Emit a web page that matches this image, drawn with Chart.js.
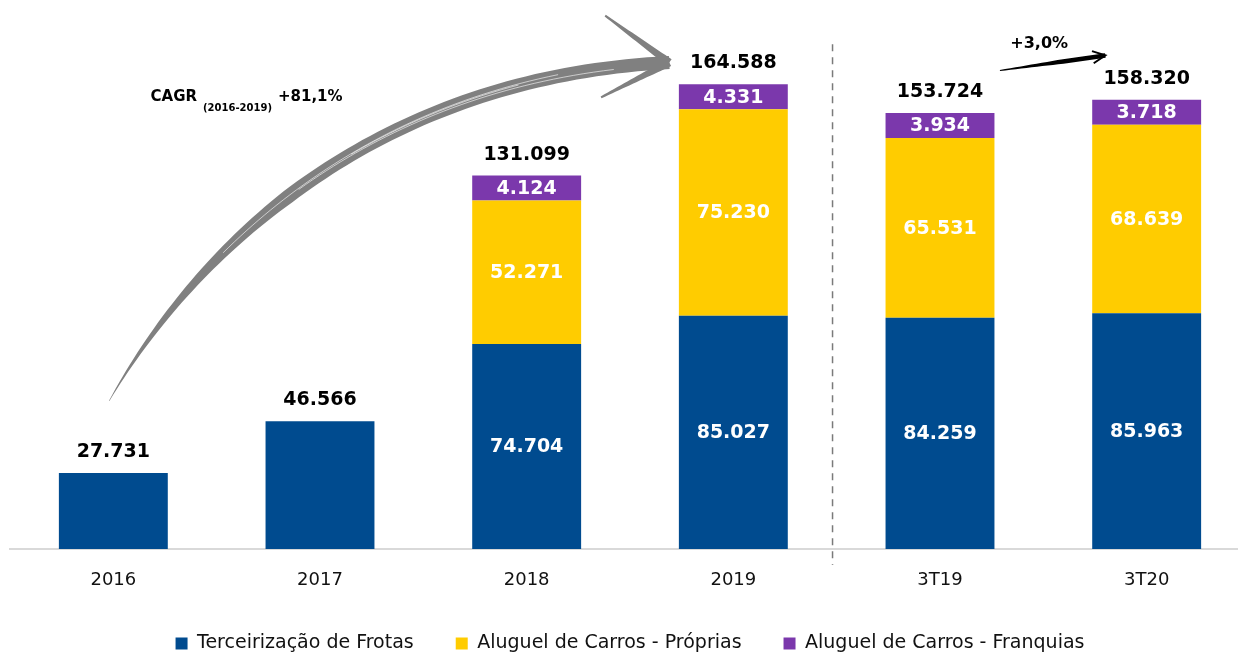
<!DOCTYPE html>
<html>
<head>
<meta charset="utf-8">
<script src="https://cdn.jsdelivr.net/npm/chart.js@4.4.0/dist/chart.umd.min.js"></script>
<style>
  html, body { margin: 0; padding: 0; background: #fff; overflow: hidden; }
</style>
</head>
<body>
<canvas id="frotaChart" width="1250" height="653"></canvas>
<script>
const categories = ['2016', '2017', '2018', '2019', '3T19', '3T20'];
const terceirizacao = [27731, 46566, 74704, 85027, 84259, 85963];
const carrosProprias = [null, null, 52271, 75230, 65531, 68639];
const carrosFranquias = [null, null, 4124, 4331, 3934, 3718];
const seriesNames = ['Terceirização de Frotas', 'Aluguel de Carros - Próprias', 'Aluguel de Carros - Franquias'];
const seriesColors = ['#004b8f', '#ffcc00', '#7b38ac'];

// annotation anchors in chart coordinates: [category index, value]
const cagrCurve = [[-0.02, 54000], [0.42, 112000], [1.29, 172000], [2.69, 177300]];
const cagrBarbs = [[2.38, 194400], [2.36, 164600]];
const growthArrow = [[4.29, 174400], [4.80, 179900]];
const cagrAt = [0.18, 164600];
const growthAt = [4.48, 184200];
const splitAt = 3.48;

function fmt(v) {
    return String(v).replace(/\B(?=(\d{3})+(?!\d))/g, '.');
}

const valueLabels = {
    id: 'valueLabels',
    afterDatasetsDraw(chart) {
        const ctx = chart.ctx;
        ctx.save();
        ctx.textAlign = 'center';
        ctx.textBaseline = 'middle';
        ctx.font = 'bold 19px "DejaVu Sans"';
        categories.forEach((c, i) => {
            let top = Infinity, total = 0, parts = 0;
            chart.data.datasets.forEach((ds, d) => {
                const v = ds.data[i];
                if (v == null) return;
                parts++;
                total += v;
                top = Math.min(top, chart.getDatasetMeta(d).data[i].y);
            });
            chart.data.datasets.forEach((ds, d) => {
                const v = ds.data[i];
                if (v == null || parts < 2) return;
                const bar = chart.getDatasetMeta(d).data[i];
                ctx.fillStyle = '#fff';
                ctx.fillText(fmt(v), bar.x, (bar.y + bar.base) / 2 + 1);
            });
            ctx.fillStyle = '#000';
            ctx.fillText(fmt(total), chart.getDatasetMeta(0).data[i].x, top - 21);
        });
        ctx.restore();
    }
};

// filled stroke whose width follows widthAt(t) along the points
function taper(ctx, pts, widthAt) {
    const left = [], right = [];
    for (let k = 0; k < pts.length; k++) {
        const a = pts[Math.max(0, k - 1)], b = pts[Math.min(pts.length - 1, k + 1)];
        const tx = b[0] - a[0], ty = b[1] - a[1];
        const len = Math.hypot(tx, ty) || 1;
        const nx = -ty / len, ny = tx / len;
        const w = widthAt(k / (pts.length - 1)) / 2;
        left.push([pts[k][0] + nx * w, pts[k][1] + ny * w]);
        right.push([pts[k][0] - nx * w, pts[k][1] - ny * w]);
    }
    ctx.beginPath();
    ctx.moveTo(left[0][0], left[0][1]);
    left.forEach(p => ctx.lineTo(p[0], p[1]));
    right.reverse().forEach(p => ctx.lineTo(p[0], p[1]));
    ctx.closePath();
    ctx.fill();
}

function line(a, b, n) {
    const pts = [];
    for (let k = 0; k <= n; k++) {
        const t = k / n;
        pts.push([a[0] + (b[0] - a[0]) * t, a[1] + (b[1] - a[1]) * t]);
    }
    return pts;
}

const notes = {
    id: 'notes',
    afterDraw(chart) {
        const {ctx, scales: {x, y}} = chart;
        const px = p => [x.getPixelForValue(p[0]), y.getPixelForValue(p[1])];
        ctx.save();

        // divider between years and quarters
        const sx = x.getPixelForValue(splitAt);
        ctx.strokeStyle = '#7a7a7a';
        ctx.lineWidth = 1.5;
        ctx.setLineDash([7, 6]);
        ctx.beginPath();
        ctx.moveTo(sx, y.getPixelForValue(184000));
        ctx.lineTo(sx, chart.chartArea.bottom + 16);
        ctx.stroke();
        ctx.setLineDash([]);

        // CAGR arrow
        const [p0, p1, p2, p3] = cagrCurve.map(px);
        const curve = [];
        for (let k = 0; k <= 80; k++) {
            const t = k / 80, m = 1 - t;
            curve.push([
                m * m * m * p0[0] + 3 * m * m * t * p1[0] + 3 * m * t * t * p2[0] + t * t * t * p3[0],
                m * m * m * p0[1] + 3 * m * m * t * p1[1] + 3 * m * t * t * p2[1] + t * t * t * p3[1]
            ]);
        }
        ctx.fillStyle = '#808080';
        taper(ctx, curve, t => 0.5 + 13.5 * Math.min(1, t / 0.45) - 5 * Math.max(0, t - 0.8));
        cagrBarbs.map(px).forEach(b => {
            taper(ctx, line(p3, b, 20), t => 8 - 6 * t);
        });
        ctx.strokeStyle = 'rgba(255,255,255,0.75)';
        ctx.lineWidth = 0.8;
        [[25, 70, 2], [38, 76, -2.5], [45, 66, 0.5]].forEach(([s, e, off]) => {
            ctx.beginPath();
            curve.slice(s, e).forEach((p, k) => k ? ctx.lineTo(p[0] + off, p[1] - off) : ctx.moveTo(p[0] + off, p[1] - off));
            ctx.stroke();
        });

        // CAGR text
        const c = px(cagrAt);
        ctx.fillStyle = '#000';
        ctx.textAlign = 'left';
        ctx.textBaseline = 'middle';
        ctx.font = 'bold 15px "DejaVu Sans"';
        ctx.fillText('CAGR', c[0], c[1]);
        let cx = c[0] + ctx.measureText('CAGR').width + 6;
        ctx.font = 'bold 10px "DejaVu Sans"';
        ctx.fillText('(2016-2019)', cx, c[1] + 11);
        cx += ctx.measureText('(2016-2019)').width + 6;
        ctx.font = 'bold 15px "DejaVu Sans"';
        ctx.fillText('+81,1%', cx, c[1]);

        // quarter growth arrow
        const [g0, g1] = growthArrow.map(px);
        ctx.fillStyle = '#000';
        taper(ctx, line(g0, g1, 20), t => 1 + 3.5 * Math.min(1, t / 0.6));
        const ang = Math.atan2(g1[1] - g0[1], g1[0] - g0[0]);
        ctx.strokeStyle = '#000';
        ctx.lineWidth = 2;
        ctx.beginPath();
        ctx.moveTo(g1[0] - 14 * Math.cos(ang - 0.45), g1[1] - 14 * Math.sin(ang - 0.45));
        ctx.lineTo(g1[0], g1[1]);
        ctx.lineTo(g1[0] - 14 * Math.cos(ang + 0.45), g1[1] - 14 * Math.sin(ang + 0.45));
        ctx.stroke();

        const g = px(growthAt);
        ctx.textAlign = 'center';
        ctx.font = 'bold 16px "DejaVu Sans"';
        ctx.fillText('+3,0%', g[0], g[1]);
        ctx.restore();
    }
};

new Chart(document.getElementById('frotaChart'), {
    type: 'bar',
    data: {
        labels: categories,
        datasets: [
            { label: seriesNames[0], data: terceirizacao, backgroundColor: seriesColors[0] },
            { label: seriesNames[1], data: carrosProprias, backgroundColor: seriesColors[1] },
            { label: seriesNames[2], data: carrosFranquias, backgroundColor: seriesColors[2], minBarLength: 25 }
        ]
    },
    options: {
        responsive: false,
        animation: false,
        layout: { padding: { left: 10, right: 0, top: 3, bottom: -10 } },
        datasets: { bar: { barPercentage: 0.527, categoryPercentage: 1 } },
        scales: {
            x: {
                stacked: true,
                grid: { display: false },
                border: { color: '#d9d9d9', width: 2 },
                ticks: { padding: 13, color: '#111', font: { family: 'DejaVu Sans', size: 18 } },
                afterFit: s => { s.height = 43; }
            },
            y: { stacked: true, display: false, min: 0, max: 199000 }
        },
        plugins: {
            legend: {
                position: 'bottom',
                labels: {
                    boxWidth: 12, boxHeight: 12, padding: 42, color: '#111',
                    font: { family: 'DejaVu Sans', size: 19 }
                }
            },
            tooltip: { enabled: false }
        }
    },
    plugins: [valueLabels, notes]
});
</script>
</body>
</html>
